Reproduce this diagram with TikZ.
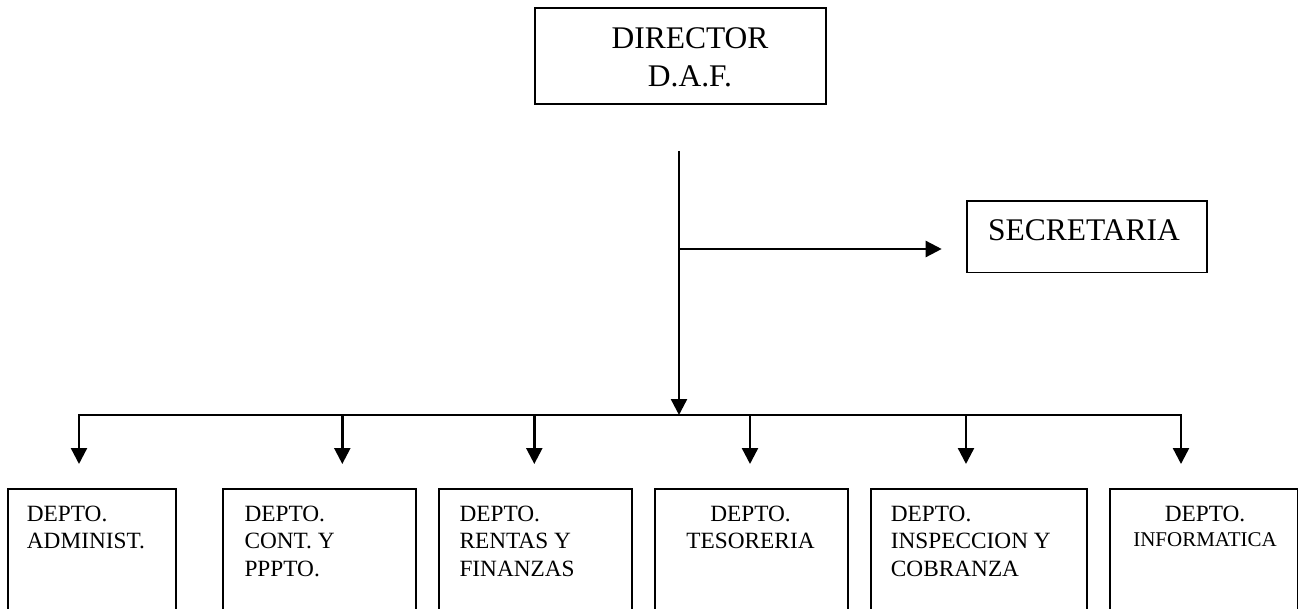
\documentclass[tikz,border=0pt]{standalone}
\usepackage{fontspec}
\setmainfont{Liberation Serif}
\usetikzlibrary{arrows.meta}
\tikzset{
  box/.style={draw, line width=1.8pt, inner sep=0pt, anchor=north west},
  conn/.style={line width=2pt},
  arr/.style={line width=2.4pt, -{Triangle[width=16pt,length=16pt]}},
  bigtxt/.style={inner sep=0pt, align=center, font=\fontsize{31.5}{37.7}\selectfont},
  depttxt/.style={inner sep=0pt, font=\fontsize{23.3}{27.5}\selectfont},
}
\begin{document}
\begin{tikzpicture}[x=1pt, y=-1pt]
\useasboundingbox (0,0) rectangle (1298,609);
% top boxes
\node[box, minimum width=290.7pt, minimum height=95.7pt] (dir) at (534.3,7.3) {};
\node[bigtxt, anchor=north] (dirt) at (690,23.3) {\rule{0pt}{25pt}DIRECTOR\\D.A.F.};
\node[box, minimum width=240.3pt, minimum height=71.7pt] (sec) at (965.7,200) {};
\node[bigtxt, anchor=base] (sect) at (1084,241) {SECRETARIA};
% connectors
\coordinate (vtop) at (679,151);
\coordinate (junc) at (679,249);
\coordinate (sectip) at (941.7,249);
\coordinate (bus) at (679,415);
\coordinate (bL) at (79,415);
\coordinate (bR) at (1181,415);
\draw[arr] (vtop) -- (bus);
\draw[arr] (junc) -- (sectip);
\draw[conn] (bL) -- (bR);
\foreach \i/\x in {1/79,2/342.3,3/534.3,4/750,5/966,6/1181}{
  \coordinate (s\i) at (\x,414);
  \coordinate (t\i) at (\x,464);
  \draw[arr] (s\i) -- (t\i);
}
% department boxes
\node[box, minimum width=167.7pt, minimum height=130pt] (d1) at (7.3,488) {};
\node[box, minimum width=192.7pt, minimum height=130pt] (d2) at (222.3,488) {};
\node[box, minimum width=192.4pt, minimum height=130pt] (d3) at (438.3,488) {};
\node[box, minimum width=192.7pt, minimum height=130pt] (d4) at (654,488) {};
\node[box, minimum width=216pt, minimum height=130pt] (d5) at (870,488) {};
\node[box, minimum width=187.4pt, minimum height=130pt] (d6) at (1109.3,488) {};
% department texts
\node[depttxt, align=left, anchor=north west] (d1t) at (26.7,501) {\rule{0pt}{20pt}DEPTO.\\ADMINIST.};
\node[depttxt, align=left, anchor=north west] (d2t) at (244.3,501) {\rule{0pt}{20pt}DEPTO.\\CONT. Y\\PPPTO.};
\node[depttxt, align=left, anchor=north west] (d3t) at (459.3,501) {\rule{0pt}{20pt}DEPTO.\\RENTAS Y\\FINANZAS};
\node[depttxt, align=center, anchor=north] (d4t) at (750.5,501) {\rule{0pt}{20pt}DEPTO.\\TESORERIA};
\node[depttxt, align=left, anchor=north west] (d5t) at (890.7,501) {\rule{0pt}{20pt}DEPTO.\\INSPECCION Y\\COBRANZA};
\node[depttxt, align=center, anchor=north] (d6t) at (1205,501) {\rule{0pt}{20pt}DEPTO.\\[-1.8pt]{\fontsize{21}{25.7}\selectfont INFORMATICA}};
\end{tikzpicture}
\end{document}
